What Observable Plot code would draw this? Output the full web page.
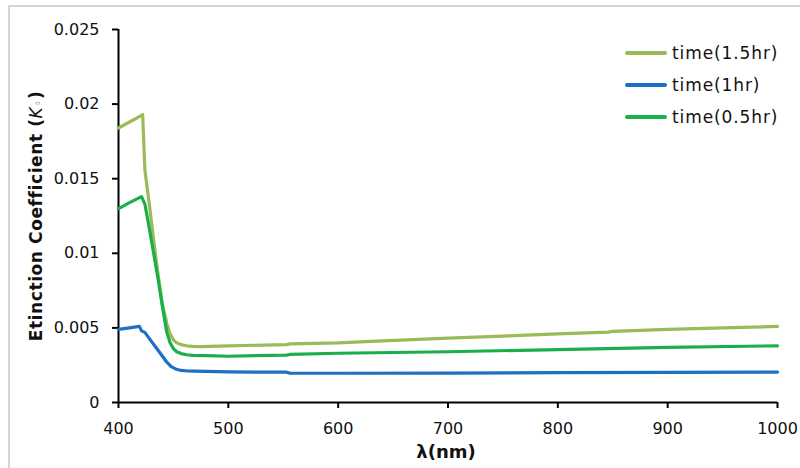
<!DOCTYPE html>
<html>
<head>
<meta charset="utf-8">
<script src="https://cdn.jsdelivr.net/npm/d3@7"></script>
<script src="https://cdn.jsdelivr.net/npm/@observablehq/plot@0.6"></script>
<style>
  body { margin: 0; background: #fff; }
  #wrap { position: relative; width: 800px; height: 468px; overflow: hidden; font-family: "DejaVu Sans", sans-serif; color: #111; }
  #frame { position: absolute; left: 8px; top: 5px; width: 1000px; height: 1000px; border-top: 2px solid #d6d6d6; border-left: 2px solid #d6d6d6; }
  #chart { position: absolute; left: 0; top: 0; }
  #legend { position: absolute; left: 625px; top: 37px; }
  .item { display: flex; align-items: center; height: 32px; font-size: 17px; letter-spacing: 0.9px; }
  .sw { width: 42px; height: 3.5px; border-radius: 2px; margin-right: 5px; }
</style>
</head>
<body>
<div id="wrap">
  <div id="frame"></div>
  <div id="chart"></div>
  <div id="legend"></div>
</div>
<script>
// ---- data ----
const seriesNames = ["time(1.5hr)", "time(1hr)", "time(0.5hr)"];
const seriesColors = ["#9bbb59", "#1f6fc5", "#1aaf4b"];

const wl15 = [400, 405, 410, 415, 422, 424, 428, 432, 436, 440, 444, 447, 450, 453, 457, 462, 468, 475, 500, 553, 556, 600, 630, 700, 750, 800, 846, 850, 900, 950, 1000];
const k15  = [0.0184, 0.0186, 0.0188, 0.0190, 0.0193, 0.0156, 0.0133, 0.0109, 0.0086, 0.0066, 0.0053, 0.0046, 0.0042, 0.0040, 0.00388, 0.0038, 0.00376, 0.00375, 0.0038, 0.00388, 0.00393, 0.0040, 0.0041, 0.00432, 0.00445, 0.0046, 0.00472, 0.00477, 0.0049, 0.0050, 0.0051];

const wl10 = [400, 410, 419, 421, 424, 430, 435, 440, 444, 448, 452, 457, 463, 470, 500, 553, 556, 600, 700, 800, 900, 1000];
const k10  = [0.0049, 0.0050, 0.0051, 0.0048, 0.0047, 0.0041, 0.0036, 0.0031, 0.0027, 0.0024, 0.00225, 0.00215, 0.00211, 0.0021, 0.00205, 0.00203, 0.00197, 0.00196, 0.00197, 0.0020, 0.00202, 0.00204];

const wl05 = [400, 410, 421, 424, 428, 432, 436, 440, 444, 447, 450, 453, 457, 462, 468, 480, 500, 553, 556, 600, 700, 800, 900, 1000];
const k05  = [0.0130, 0.0134, 0.0138, 0.0133, 0.0117, 0.0100, 0.0083, 0.0064, 0.0047, 0.0040, 0.0036, 0.0034, 0.00328, 0.0032, 0.00316, 0.00314, 0.0031, 0.00318, 0.00322, 0.0033, 0.0034, 0.00355, 0.0037, 0.0038];

const xTicks = [400, 500, 600, 700, 800, 900, 1000];
const yTicks = [0, 0.005, 0.01, 0.015, 0.02, 0.025];

const toRows = (wl, k, s) => wl.map((w, i) => ({wl: w, k: k[i], s}));
const rows = [
  ...toRows(wl15, k15, seriesNames[0]),
  ...toRows(wl10, k10, seriesNames[1]),
  ...toRows(wl05, k05, seriesNames[2])
];

const chart = Plot.plot({
  width: 800,
  height: 468,
  marginLeft: 118,
  marginRight: 23,
  marginTop: 29,
  marginBottom: 66,
  style: { fontFamily: "DejaVu Sans, sans-serif", fontSize: "16px", color: "#111", background: "transparent" },
  x: { domain: [400, 1000], label: null },
  y: { domain: [0, 0.025], label: null },
  color: { domain: seriesNames, range: seriesColors },
  marks: [
    Plot.axisX({ ticks: xTicks, tickSize: 6, tickPadding: 14, tickFormat: d => String(d), stroke: "#000", strokeWidth: 2, fontSize: 16 }),
    Plot.axisY({ ticks: yTicks, tickSize: 6, tickPadding: 13, tickFormat: d => d === 0 ? "0" : String(d), stroke: "#000", strokeWidth: 2, fontSize: 16 }),
    Plot.ruleX([400], { stroke: "#000", strokeWidth: 2 }),
    Plot.ruleY([0], { stroke: "#000", strokeWidth: 2 }),
    Plot.line(rows, { x: "wl", y: "k", z: "s", stroke: "s", strokeWidth: 3.2, strokeLinejoin: "round" })
  ]
});
document.getElementById("chart").appendChild(chart);

// axis titles
const svg = d3.select(chart);
svg.append("text")
  .attr("x", 446).attr("y", 458)
  .attr("text-anchor", "middle")
  .attr("font-family", "DejaVu Sans, sans-serif")
  .attr("font-weight", "bold").attr("font-size", 18).attr("fill", "#111")
  .text("λ(nm)");
const yl = svg.append("text")
  .attr("transform", "translate(42,216) rotate(-90)")
  .attr("text-anchor", "middle")
  .attr("font-family", "DejaVu Sans, sans-serif")
  .attr("font-weight", "bold").attr("font-size", 17).attr("letter-spacing", 0.6).attr("fill", "#111");
yl.append("tspan").text("Etinction Coefficient (");
yl.append("tspan").attr("font-style", "italic").attr("font-weight", "normal").text("K");
yl.append("tspan").attr("font-size", 12).attr("font-weight", "normal").text("◦");
yl.append("tspan").text(")");

// legend
const leg = d3.select("#legend");
seriesNames.forEach((n, i) => {
  const it = leg.append("div").attr("class", "item");
  it.append("div").attr("class", "sw").style("background", seriesColors[i]);
  it.append("span").text(n);
});
</script>
</body>
</html>
